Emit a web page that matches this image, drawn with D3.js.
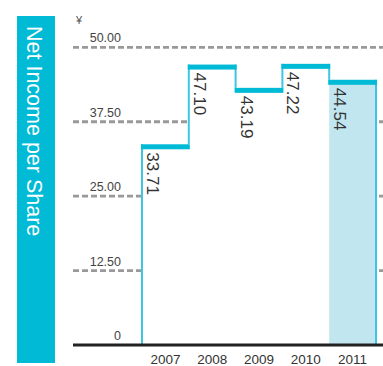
<!DOCTYPE html>
<html>
<head>
<meta charset="utf-8">
<script src="https://cdn.jsdelivr.net/npm/d3@7"></script>
<style>
html,body{margin:0;padding:0;background:#fff;}
svg{display:block;font-family:"Liberation Sans",Arial,Helvetica,sans-serif;}
</style>
</head>
<body>
<svg id="chart" width="383" height="366"></svg>
<script>
const years = ["2007","2008","2009","2010","2011"];
const values = [33.71, 47.10, 43.19, 47.22, 44.54];
const labels = ["33.71","47.10","43.19","47.22","44.54"];
const tickValues = [0, 12.5, 25, 37.5, 50];
const tickLabels = ["0","12.50","25.00","37.50","50.00"];
const title = "Net Income per Share";
const unit = "¥";

const svg = d3.select("#chart");
const cyan = "#00bad6", cyanLight = "#3cc6e0", fill2011 = "#c1e6f0";

const x = d3.scaleBand().domain(years).range([142, 376]).padding(0);
const y = d3.scaleLinear().domain([0, 50]).range([345, 47.3]);

// title box
svg.append("rect").attr("x",17).attr("y",16).attr("width",38).attr("height",347).attr("fill",cyan);
svg.append("text").attr("transform","translate(27,26) rotate(90)")
  .attr("fill","#fff").attr("font-size",21.5).text(title);

// unit
svg.append("text").attr("x",76).attr("y",24).attr("font-size",11).attr("fill","#555").text(unit);

// gridlines
const grid = svg.append("g");
tickValues.forEach((v,i)=>{
  if (v>0) grid.append("line").attr("x1",73).attr("x2",383).attr("y1",y(v)).attr("y2",y(v))
    .attr("stroke","#999").attr("stroke-width",2.8).attr("stroke-dasharray","6,3");
  grid.append("text").attr("x",121).attr("y",y(v)-5).attr("text-anchor","end")
    .attr("font-size",12.5).attr("fill","#444").text(tickLabels[i]);
});

// bars (white, 2011 highlighted); slight overlap to hide seams
const bw = x.bandwidth();
svg.append("g").selectAll("rect").data(years).join("rect")
  .attr("x",d=>x(d)).attr("width",(d,i)=>i<years.length-1?bw+1.5:bw)
  .attr("y",(d,i)=>y(values[i])).attr("height",(d,i)=>y(0)-y(values[i]))
  .attr("fill",(d,i)=>i===years.length-1?fill2011:"#fff");

// vertical thin lines (step)
const vl = svg.append("g").attr("stroke",cyanLight).attr("stroke-width",2);
years.forEach((d,i)=>{
  if (i===0) vl.append("line").attr("x1",x(d)).attr("x2",x(d)).attr("y1",y(values[i])).attr("y2",y(0));
  else vl.append("line").attr("x1",x(d)).attr("x2",x(d)).attr("y1",y(values[i-1])).attr("y2",y(values[i]));
});
const last = years[years.length-1];
vl.append("line").attr("x1",x(last)+bw).attr("x2",x(last)+bw).attr("y1",y(values[values.length-1])).attr("y2",y(0));

// thick tops
svg.append("g").selectAll("rect").data(years).join("rect")
  .attr("x",d=>x(d)-1).attr("width",bw+2)
  .attr("y",(d,i)=>y(values[i])).attr("height",5).attr("fill",cyan);

// value labels
svg.append("g").selectAll("text").data(years).join("text")
  .attr("transform",(d,i)=>`translate(${x(d)+5},${y(values[i])+8}) rotate(90)`)
  .attr("font-size",17).attr("fill","#333").text((d,i)=>labels[i]);

// baseline
svg.append("line").attr("x1",73).attr("x2",383).attr("y1",y(0)).attr("y2",y(0))
  .attr("stroke","#222").attr("stroke-width",3);

// x axis labels
svg.append("g").selectAll("text").data(years).join("text")
  .attr("x",d=>x(d)+bw/2).attr("y",364).attr("text-anchor","middle")
  .attr("font-size",13.5).attr("fill","#333").text(d=>d);
</script>
</body>
</html>
